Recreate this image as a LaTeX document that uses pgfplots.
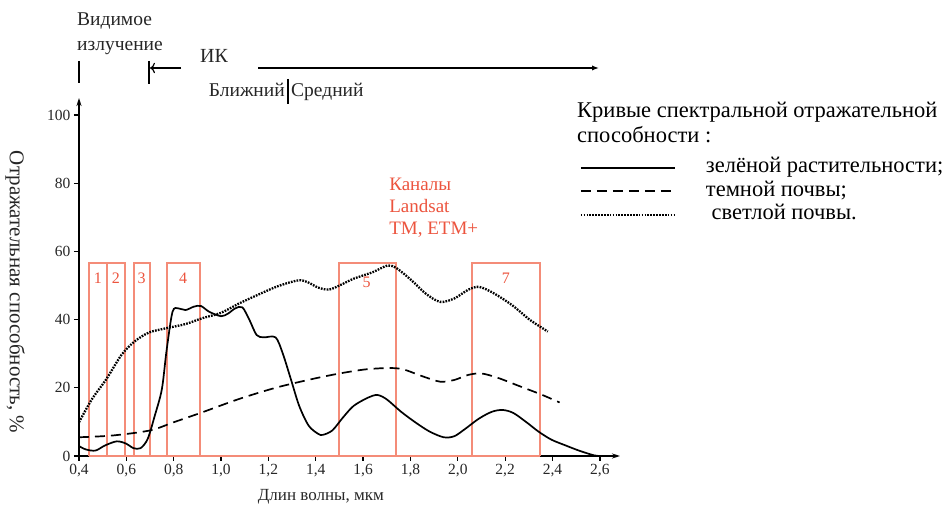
\documentclass[border=0pt]{standalone}
\usepackage{pgfplots}
\pgfplotsset{compat=1.18}
\usepackage{fontspec}
\setmainfont{Liberation Serif}
\usetikzlibrary{arrows.meta}
\definecolor{band}{RGB}{244,140,120}
\definecolor{bandtxt}{RGB}{236,84,62}

\begin{document}
\begin{tikzpicture}[x=1pt,y=1pt]
\useasboundingbox (0,0) rectangle (945,511);
\begin{axis}[
  at={(79pt,55pt)}, anchor=south west,
  scale only axis, width=541pt, height=358pt,
  xmin=0.4, xmax=2.685, ymin=0, ymax=105,
  axis lines=left,
  axis line style={line width=1.3pt, -{Stealth[length=8pt,width=5pt]}},
  xtick={0.4,0.6,0.8,1.0,1.2,1.4,1.6,1.8,2.0,2.2,2.4,2.6},
  ytick={0,20,40,60,80,100},
  tick align=outside, major tick length=5pt,
  tick style={line width=1.3pt, black},
  ticklabel style={font=\fontsize{15.5}{15.5}\selectfont, text=black!85},
  /pgf/number format/assume math mode=true,
  xticklabel style={/pgf/number format/.cd, fixed, fixed zerofill, precision=1, use comma},
  yticklabel style={/pgf/number format/.cd, fixed, precision=0},
  xlabel={Длин волны, мкм},
  ylabel={Отражательная способность, \%},
  xlabel style={font=\fontsize{17}{17}\selectfont, text=black!85,
    at={(axis description cs:0.447,-0.113)}, anchor=center},
  ylabel style={font=\fontsize{21}{21}\selectfont, text=black!85,
    at={(axis description cs:-0.118,0.458)}, anchor=center, rotate=180},
  clip=false,
  legend style={draw=none, fill=none, at={(rel axis cs:0.925,0.84)}, anchor=north west,
    font=\fontsize{22.5}{22.5}\selectfont, row sep=2.5pt, column sep=28pt, inner sep=0pt},
  legend cell align=left,
  legend image code/.code={\draw[#1] (0pt,-2pt) -- (94pt,-2pt);},
]
% Landsat bands
\addplot[band, line width=1.8pt, forget plot] coordinates {(0.4425,0) (0.4425,56.5) (0.518,56.5) (0.518,0)};
\addplot[band, line width=1.8pt, forget plot] coordinates {(0.518,0) (0.518,56.5) (0.593,56.5) (0.593,0)};
\addplot[band, line width=1.8pt, forget plot] coordinates {(0.631,0) (0.631,56.5) (0.699,56.5) (0.699,0)};
\addplot[band, line width=1.8pt, forget plot] coordinates {(0.770,0) (0.770,56.5) (0.910,56.5) (0.910,0)};
\addplot[band, line width=1.8pt, forget plot] coordinates {(1.497,0) (1.497,56.5) (1.738,56.5) (1.738,0)};
\addplot[band, line width=1.8pt, forget plot] coordinates {(2.059,0) (2.059,56.5) (2.347,56.5) (2.347,0)};
\addplot[band, line width=1.8pt, forget plot] coordinates {(0.4425,0) (2.347,0)};

% vegetation
\addplot[black, line width=1.7pt, smooth, tension=0.5] coordinates {
(0.40,2.9)(0.43,1.9)(0.47,1.6)(0.51,3.1)(0.56,4.3)(0.60,3.6)(0.63,2.3)(0.66,2.3)
(0.69,5)(0.72,11.8)(0.75,19.6)(0.77,31)(0.795,42.3)(0.82,43.3)(0.85,42.8)(0.885,43.8)
(0.915,44)(0.95,42.3)(1.0,41)(1.03,41.8)(1.06,43.3)(1.09,43.6)(1.12,39.9)(1.15,35.5)
(1.18,34.8)(1.23,34.8)(1.26,30.2)(1.295,22.5)(1.33,14.7)(1.37,8.9)(1.41,6.5)(1.43,6.2)
(1.47,7.5)(1.515,11.3)(1.56,14.7)(1.62,17.1)(1.66,17.9)(1.70,16.6)(1.76,13)(1.82,9.9)
(1.88,7.2)(1.94,5.5)(1.985,5.8)(2.03,7.9)(2.09,11)(2.145,13)(2.19,13.5)(2.235,12.6)
(2.29,9.9)(2.34,7.2)(2.395,4.8)(2.455,3.1)(2.515,1.5)(2.575,0.2)(2.6,0)};
\addlegendentry{зелёной растительности;}

% dark soil
\addplot[black, line width=1.7pt, smooth, tension=0.5, dash pattern=on 10pt off 6pt] coordinates {
(0.4,5.5)(0.54,6)(0.70,7.5)(0.80,9.9)(0.92,12.8)(1.075,16.7)(1.23,20)(1.38,22.5)
(1.50,24.2)(1.61,25.4)(1.71,25.8)(1.77,25.4)(1.85,23.4)(1.925,21.8)(1.985,22.3)
(2.045,23.8)(2.10,24.2)(2.17,22.9)(2.26,20.5)(2.35,18.1)(2.43,15.7)};
\addlegendentry{темной почвы;}

% bright soil
\addplot[black, line width=2.3pt, smooth, tension=0.5, dash pattern=on 1.7pt off 1.2pt] coordinates {
(0.4,9.9)(0.455,16.7)(0.515,22.5)(0.58,29.7)(0.635,33.6)(0.695,36.2)(0.77,37.5)
(0.85,38.7)(0.92,40.4)(1.0,42)(1.075,44.7)(1.15,47.1)(1.24,49.8)(1.325,51.5)
(1.365,51)(1.41,49.4)(1.455,48.8)(1.50,50)(1.56,52)(1.64,53.9)(1.705,55.9)
(1.745,54.9)(1.805,51.5)(1.865,47.6)(1.925,45.2)(1.985,46.2)(2.045,48.8)(2.09,49.6)
(2.15,47.8)(2.23,44.2)(2.305,39.9)(2.38,36.5)};
\addlegendentry{\ светлой почвы.}

\begin{scope}[every node/.style={text=bandtxt, font=\fontsize{16}{16}\selectfont}]
\node at (axis cs:0.480,52) {1};
\node at (axis cs:0.556,52) {2};
\node at (axis cs:0.665,52) {3};
\node at (axis cs:0.840,52) {4};
\node at (axis cs:1.615,51) {5};
\node at (axis cs:2.203,52) {7};
\end{scope}
\node[text=bandtxt, anchor=north west, align=left, inner sep=0pt,
  font=\fontsize{19}{22}\selectfont] at (axis cs:1.71,81.5) {Каналы\\Landsat\\TM, ETM+};
\end{axis}

% top annotations
\node[anchor=north west, align=left, inner sep=0pt, font=\fontsize{19.5}{25}\selectfont, text=black!85]
  at (77,498) {Видимое\\излучение};
\draw[line width=1.5pt] (79,450) -- (79,428);
\draw[line width=1.3pt] (149,450) -- (149,427);
\draw[line width=1.2pt, -{To[length=5pt]}] (181,443) -- (150,443);
\node[font=\fontsize{20}{20}\selectfont, text=black!85] at (214,455) {ИК};
\draw[line width=1.3pt, -{Latex[length=7pt]}] (258,443) -- (599,443);
\node[anchor=base east, font=\fontsize{19.5}{19.5}\selectfont, text=black!85, inner sep=0pt] at (285,414) {Ближний};
\draw[line width=1.2pt] (288,432) -- (288,407);
\node[anchor=base west, font=\fontsize{19.5}{19.5}\selectfont, text=black!85, inner sep=0pt] at (291,414) {Средний};

\node[anchor=north west, align=left, inner sep=0pt, font=\fontsize{22.5}{25}\selectfont]
  at (577,409) {Кривые спектральной отражательной\\способности :};
\end{tikzpicture}
\end{document}
